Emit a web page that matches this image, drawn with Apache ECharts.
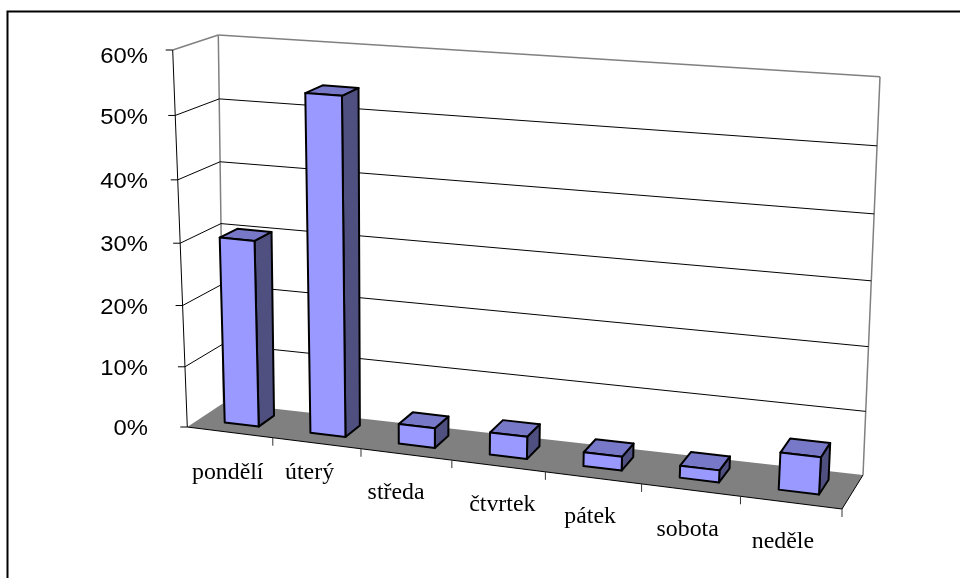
<!DOCTYPE html>
<html><head><meta charset="utf-8">
<style>html,body{margin:0;padding:0;background:#fff}#c{width:960px;height:578px}</style>
<script src="https://cdn.jsdelivr.net/npm/echarts@6/dist/echarts.min.js"></script>
</head><body><div id="c"></div>
<script>
const categories = ['pondělí','úterý','středa','čtvrtek','pátek','sobota','neděle'];
const shares = [0.303,0.54,0.032,0.036,0.022,0.019,0.058];
const tickValues = [0,0.1,0.2,0.3,0.4,0.5,0.6];

// Frame of the 3D box on screen: front/back, left/right, bottom/top
const BOX = {
  flb:[187.3,427], flt:[172.7,50], frb:[842,509], frt:[867,101],
  blb:[223.5,403], blt:[218.3,35], brb:[863,475], brt:[880,76.7]
};
const G = {left:100, top:40, width:700, height:400};
const warpU = u => 0.9*u + 0.1*u*u;
const warpV = v => 0.95*v + 0.05*v*v;
const mix = (a,b,t)=>[a[0]+(b[0]-a[0])*t, a[1]+(b[1]-a[1])*t];
function project(px,py,d){
  const u = warpU((px-G.left)/G.width), v = warpV((G.top+G.height-py)/G.height);
  const f = mix(mix(BOX.flb,BOX.frb,u), mix(BOX.flt,BOX.frt,u), v);
  const b = mix(mix(BOX.blb,BOX.brb,u), mix(BOX.blt,BOX.brt,u), v);
  return mix(f,b,d);
}
const Y0 = G.top+G.height, Y1 = G.top, X0 = G.left, X1 = G.left+G.width;
const line = (p,q,stroke,w)=>({type:'line',shape:{x1:p[0],y1:p[1],x2:q[0],y2:q[1]},style:{stroke,lineWidth:w,fill:null}});
const poly = (pts,fill,stroke,w)=>({type:'polygon',shape:{points:pts},style:{fill,stroke,lineWidth:w,lineJoin:'round'}});

const DEPTH = [0.32,0.76], BAR = 0.40, BAR_SHIFT = 0.008;
const SX = 1.06, FS = 22.5;
const serifNudge = [[-2,4],[-7,-7],[-10,2],[4,2],[-3,2],[-3,3],[-8,2]];

const option = {
  animation:false,
  backgroundColor:'#fff',
  grid:G,
  xAxis:{type:'category',data:categories,show:false},
  yAxis:{type:'value',min:0,max:0.6,interval:0.1,show:false},
  graphic:[{type:'polyline',silent:true,shape:{points:[[7.5,578],[7.5,11.5],[960,11.5]]},style:{stroke:'#000',lineWidth:2,fill:null}}],
  series:[
    { // floor and walls
      type:'custom',silent:true,z:1,data:[0],encode:{x:0,y:0},
      renderItem(){
        const c=[];
        c.push(poly([project(X0,Y0,0),project(X1,Y0,0),project(X1,Y0,1),project(X0,Y0,1)],'#808080',null,0));
        c.push(line(project(X0,Y1,0),project(X0,Y1,1),'#808080',1.5));
        c.push(line(project(X0,Y1,1),project(X0,Y0,1),'#808080',1.5));
        c.push(line(project(X0,Y1,1),project(X1,Y1,1),'#808080',1.5));
        c.push(line(project(X1,Y1,1),project(X1,Y0,1),'#808080',1.5));
        c.push(line(project(X0,Y0,0),project(X0,Y1,0),'#000',1));
        c.push(line(project(X0,Y0,0),project(X1,Y0,0),'#000',1.2));
        c.push(line(project(X1,Y0,0),project(X1,Y0,1),'#000',1));
        return {type:'group',children:c};
      }
    },
    { // value gridlines, ticks, labels
      type:'custom',silent:true,z:2,data:tickValues.map(v=>[0,v]),encode:{x:0,y:1},
      renderItem(p,api){
        const v=api.value(1), py=api.coord([0,v])[1];
        const a=project(X0,py,0), b=project(X0,py,1), r=project(X1,py,1);
        const c=[line([a[0]-7,a[1]],a,'#000',1)];
        if(v>0 && v<0.6){ c.push(line(a,b,'#000',1)); c.push(line(b,r,'#000',1)); }
        const top = v>=0.6 ? 7 : 2;
        c.push({type:'text',x:148,y:a[1]+top,scaleX:SX,style:{text:Math.round(v*100)+'%',font:FS+'px "Liberation Sans"',fill:'#000',align:'right',verticalAlign:'middle'}});
        return {type:'group',children:c};
      }
    },
    { // category ticks and labels
      type:'custom',silent:true,z:2,data:categories.map((n,i)=>[i]),encode:{x:0},
      renderItem(p,api){
        const i=api.value(0), cx=api.coord([i,0])[0], w=api.size([1,0])[0];
        const c=[];
        const t=project(cx+w/2,Y0,0);
        c.push(line(t,[t[0],t[1]+8],'#333',1));
        const m=project(cx,Y0,0), n=serifNudge[i];
        c.push({type:'text',x:m[0]+n[0],y:m[1]+37+n[1],scaleX:SX,style:{text:categories[i],font:FS+'px "Liberation Serif"',fill:'#000',align:'center',verticalAlign:'middle'}});
        return {type:'group',children:c};
      }
    },
    { // bars
      type:'custom',silent:true,z:3,data:shares.map((v,i)=>[i,v]),encode:{x:0,y:1},
      renderItem(p,api){
        const i=api.value(0), top=api.coord([i,api.value(1)]), w=api.size([1,0])[0];
        const mid=top[0]+w*BAR_SHIFT, L=mid-w*BAR/2, R=mid+w*BAR/2, T=top[1];
        const [d0,d1]=DEPTH;
        const s='#000', lw=2;
        return {type:'group',children:[
          poly([project(R,Y0,d0),project(R,Y0,d1),project(R,T,d1),project(R,T,d0)],'#4F4F80',s,lw),
          poly([project(L,T,d0),project(R,T,d0),project(R,T,d1),project(L,T,d1)],'#7878C8',s,lw),
          poly([project(L,Y0,d0),project(R,Y0,d0),project(R,T,d0),project(L,T,d0)],'#9999FF',s,lw)
        ]};
      }
    }
  ]
};
echarts.init(document.getElementById('c')).setOption(option);
</script></body></html>
